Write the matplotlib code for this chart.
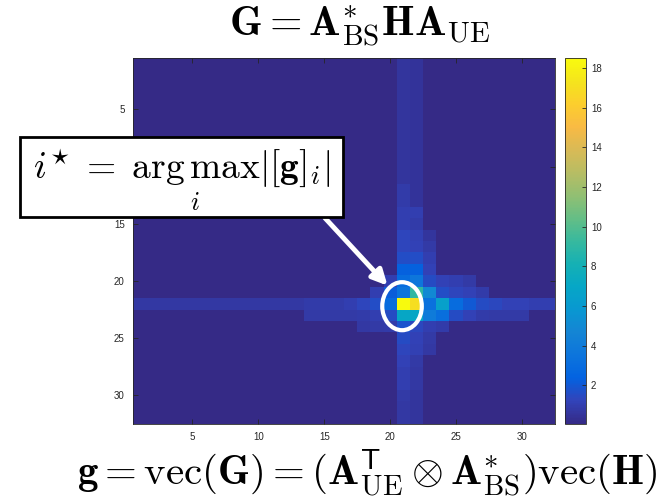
import numpy as np
import matplotlib
matplotlib.use("Agg")
import matplotlib.pyplot as plt
from matplotlib.colors import LinearSegmentedColormap
from matplotlib.patches import Ellipse, Rectangle

plt.rcParams['mathtext.fontset'] = 'cm'
plt.rcParams['font.family'] = ['Liberation Sans', 'DejaVu Sans']

# --- datos: |G| (32 x 32), fondo + cruz alrededor del máximo ---
n = 32
bg = 0.05

# columnas 21, 22, 23 (filas 1..32)
col21 = [0.6, 0.6, 0.6, 0.6, 0.6, 0.6, 0.6, 0.6, 0.6, 0.6, 0.6, 0.9, 0.9, 1.0, 1.0, 1.3,
         1.3, 1.6, 2.3, 3.0, 3.5, 18.5, 7.0, 1.8, 1.5, 1.3, 1.2, 1.0, 1.0, 0.8, 0.7, 0.7]
col22 = [0.5, 0.5, 0.5, 0.5, 0.5, 0.5, 0.5, 0.5, 0.5, 0.5, 0.5, 0.5, 0.5, 1.0, 0.9, 1.1,
         1.2, 1.6, 2.3, 3.6, 9.0, 17.0, 7.0, 1.4, 1.2, 1.1, 0.8, 0.7, 0.7, 0.6, 0.6, 0.6]
col23 = [bg, bg, bg, bg, bg, bg, bg, bg, bg, bg, bg, bg, bg, bg, bg, 0.6,
         0.8, 1.0, 1.2, 1.5, 5.0, 3.3, 4.0, 1.0, 0.8, 0.7, bg, bg, bg, bg, bg, bg]

# filas 20..24 (columnas 1..32)
row20 = [bg, bg, bg, bg, bg, bg, bg, bg, bg, bg, bg, bg, bg, bg, bg, bg,
         bg, bg, bg, 1.0, 3.0, 3.6, 1.5, 1.2, 1.0, 0.8, bg, bg, bg, bg, bg, bg]
row21 = [bg, bg, bg, bg, bg, bg, bg, bg, bg, bg, bg, bg, bg, bg, bg, bg,
         bg, bg, 1.0, 2.2, 3.5, 9.0, 5.0, 1.6, 1.3, 1.2, 0.9, bg, bg, bg, bg, bg]
row22 = [0.7, 0.7, 0.7, 0.7, 0.7, 0.7, 0.7, 0.7, 0.7, 0.7, 0.7, 0.7, 0.7, 0.9, 0.9, 0.9,
         1.0, 1.3, 1.6, 3.0, 18.5, 17.0, 3.3, 6.5, 3.0, 2.0, 1.5, 1.4, 1.2, 1.2, 1.0, 1.0]
row23 = [bg, bg, bg, bg, bg, bg, bg, bg, bg, bg, bg, bg, bg, 0.8, 0.8, 0.8,
         0.8, 0.9, 1.0, 1.5, 7.0, 7.0, 4.0, 3.2, 1.5, 1.2, 0.9, 0.8, 0.8, 0.8, bg, bg]
row24 = [bg, bg, bg, bg, bg, bg, bg, bg, bg, bg, bg, bg, bg, bg, bg, bg,
         bg, 0.7, 0.8, 0.9, 1.8, 1.4, 1.0, 0.9, bg, bg, bg, bg, bg, bg, bg, bg]

xticks = [5, 10, 15, 20, 25, 30]
yticks = [5, 10, 15, 20, 25, 30]
cticks = [2, 4, 6, 8, 10, 12, 14, 16, 18]

G = np.full((n, n), bg)
G[:, 20] = col21
G[:, 21] = col22
G[:, 22] = col23
G[19, :] = row20
G[20, :] = row21
G[21, :] = row22
G[22, :] = row23
G[23, :] = row24

# colormap parula (aprox.)
parula_pts = [
    (0.2081, 0.1663, 0.5292), (0.1959, 0.2645, 0.7279), (0.0117, 0.3875, 0.8820),
    (0.0498, 0.4586, 0.8641), (0.0793, 0.5200, 0.8312), (0.0343, 0.5966, 0.8199),
    (0.0228, 0.6535, 0.7768), (0.0843, 0.6928, 0.7062), (0.2178, 0.7250, 0.6193),
    (0.3953, 0.7459, 0.5244), (0.5709, 0.7485, 0.4494), (0.7184, 0.7411, 0.3905),
    (0.8507, 0.7299, 0.3360), (0.9739, 0.7314, 0.2666), (0.9880, 0.8066, 0.1794),
    (0.9589, 0.8949, 0.1132), (0.9763, 0.9831, 0.0538)]
parula = LinearSegmentedColormap.from_list('parula', parula_pts, N=256)

W, H = 672, 500
fig = plt.figure(figsize=(W / 100, H / 100), dpi=100)

def px(x0, y0, x1, y1):
    # caja en pixeles (origen arriba-izquierda) -> coords de figura
    return [x0 / W, 1 - y1 / H, (x1 - x0) / W, (y1 - y0) / H]

ax = fig.add_axes(px(133, 58, 555, 424))
cax = fig.add_axes(px(565, 58, 586, 424))

im = ax.imshow(G, cmap=parula, extent=(0.5, n + 0.5, n + 0.5, 0.5), aspect='auto',
               interpolation='nearest')
ax.set_xticks(xticks)
ax.set_yticks(yticks)
ax.tick_params(direction='in', top=True, right=True, length=3.5, width=0.6,
               labelsize=7, colors='#262626', pad=6)
for s in ax.spines.values():
    s.set_color('#262626')
    s.set_linewidth(0.6)

cb = fig.colorbar(im, cax=cax, ticks=cticks)
cb.ax.tick_params(direction='in', length=3, width=0.6, labelsize=7, colors='#262626')
cb.outline.set_edgecolor('#262626')
cb.outline.set_linewidth(0.6)

# textos
fig.text(360 / W, 1 - 27 / H,
         r'$\mathbf{G}=\mathbf{A}_{\mathrm{BS}}^{*}\mathbf{H}\mathbf{A}_{\mathrm{UE}}$',
         ha='center', va='center', fontsize=30)
fig.text(367 / W, 1 - 473 / H,
         r'$\mathbf{g}=\mathrm{vec}(\mathbf{G})=(\mathbf{A}_{\mathrm{UE}}^{\mathsf{T}}\otimes\mathbf{A}_{\mathrm{BS}}^{*})\mathrm{vec}(\mathbf{H})$',
         ha='center', va='center', fontsize=29.5)

# recuadro con i* = arg max
fig.patches.append(Rectangle((20 / W, 1 - 217 / H), 323 / W, 80 / H,
                             transform=fig.transFigure, facecolor='white',
                             edgecolor='black', linewidth=2, zorder=5))
fig.text(182 / W, 1 - 180 / H,
         r'$i^{\star}\;=\;\underset{i}{\mathrm{arg\,max}}|[\mathbf{g}]_i|$',
         ha='center', va='center', fontsize=27, zorder=6)

# elipse y flecha
ax.add_patch(Ellipse((20.9, 22.2), 3.0, 4.2, fill=False, edgecolor='white', linewidth=3))
ax.annotate('', xy=(19.8, 20.4), xycoords='data',
            xytext=(325, H - 218), textcoords='figure pixels',
            arrowprops=dict(arrowstyle='-|>,head_length=0.9,head_width=0.45',
                            color='white', lw=3.5, shrinkA=0, shrinkB=0),
            annotation_clip=False)

fig.savefig('out.png', dpi=100)
